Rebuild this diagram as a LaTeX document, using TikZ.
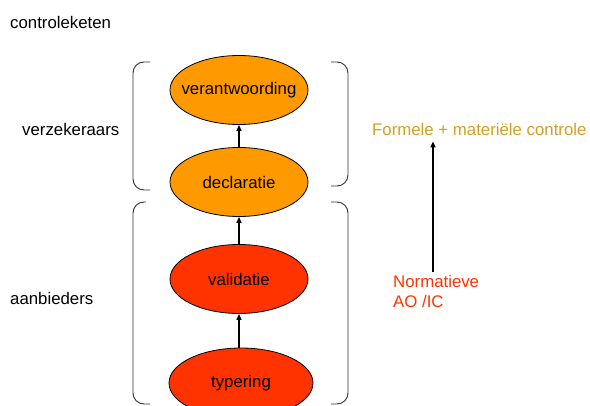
\documentclass[tikz,border=0pt]{standalone}
\usepackage{fontspec}
\setmainfont{Liberation Sans}
\usetikzlibrary{shapes.geometric,arrows.meta}
\definecolor{orng}{HTML}{FF9900}
\definecolor{redo}{HTML}{FF3300}
\definecolor{gold}{HTML}{D4A020}
\newcommand\ovtxt[1]{\makebox[0pt]{#1}}
\begin{document}
\begin{tikzpicture}[x=1pt,y=-1pt,
  txt/.style={font=\fontsize{16.8pt}{20pt}\selectfont, inner sep=0pt},
  oval/.style={ellipse, draw=black, line width=0.8pt, minimum width=138pt, minimum height=69pt, inner sep=0pt, font=\fontsize{16.8pt}{20pt}\selectfont},
  arr/.style={line width=1.4pt, -{Triangle[length=6pt,width=5pt]}},
  brack/.style={draw=black!80, line width=0.9pt, rounded corners=11pt}
]
\useasboundingbox (0,0) rectangle (590,406);
% labels
\node[txt, anchor=base west] (ck) at (10,28.5) {controleketen};
\node[txt, anchor=base west] (vz) at (22,136) {verzekeraars};
\node[txt, anchor=base west] (ab) at (10,305) {aanbieders};
% ovals
\node[oval, fill=orng] (ver) at (239,90) {\ovtxt{verantwoording}};
\node[oval, fill=orng] (dec) at (239,182) {\ovtxt{declaratie}};
\node[oval, fill=redo] (val) at (239,279) {\ovtxt{validatie}};
\node[oval, fill=redo, minimum width=144pt, minimum height=70pt] (typ) at (241,383) {\ovtxt{typering}};
% arrows
\draw[arr] (dec.north) -- (ver.south);
\draw[arr] (val.north) -- (dec.south);
\draw[arr] (typ.north -| val.north) -- (val.south);
% brackets
\draw[brack] (150,62) -- (133,62) -- (133,190) -- (150,190);
\draw[brack] (331,62) -- (348,62) -- (348,186) -- (331,186);
\draw[brack] (146,202) -- (133,202) -- (133,404) -- (150,404);
\draw[brack] (331,202) -- (348,202) -- (348,404) -- (331,404);
% right side
\node[txt, anchor=base west, text=gold] (form) at (372,136) {Formele + materiële controle};
\node[txt, anchor=north west, text=redo, align=left] (norm) at (393,275) {Normatieve\\AO /IC};
\coordinate (ax) at (433,0);
\draw[arr] ([yshift=3pt]norm.north -| ax) -- ([yshift=-5pt]form.south -| ax);
\end{tikzpicture}
\end{document}
